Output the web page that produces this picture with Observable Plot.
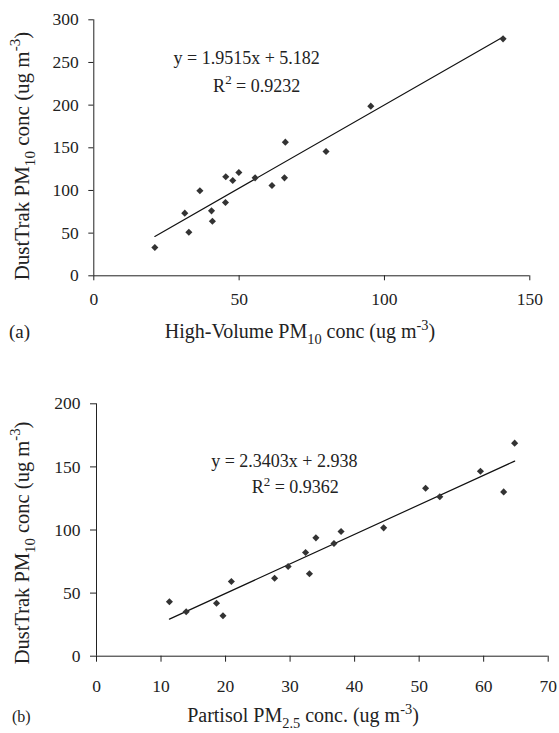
<!DOCTYPE html>
<html>
<head>
<meta charset="utf-8">
<script src="https://cdn.jsdelivr.net/npm/d3@7"></script>
<script src="https://cdn.jsdelivr.net/npm/@observablehq/plot@0.6"></script>
<style>
  html, body { margin: 0; padding: 0; background: #fff; }
  #wrap svg { display: block; }
</style>
</head>
<body>
<div id="wrap"></div>
<script>
// ---- Data ----
// Panel (a): High-Volume PM10 vs DustTrak PM10
const hvPM10 = [21.0, 31.3, 32.7, 36.5, 40.5, 40.8, 45.3, 45.4, 47.8, 49.9, 55.5, 61.3, 65.6, 65.9, 79.9, 95.3, 140.8];
const dustTrakA = [33.2, 73.4, 51.1, 99.6, 76.1, 64.0, 85.9, 116.0, 111.7, 121.1, 114.8, 105.8, 114.8, 156.6, 145.7, 198.8, 277.7];
const fitA = {slope: 1.9515, intercept: 5.182, r2: 0.9232};
const xTicksA = [0, 50, 100, 150];
const yTicksA = [0, 50, 100, 150, 200, 250, 300];

// Panel (b): Partisol PM2.5 vs DustTrak PM10
const partisolPM25 = [11.3, 13.9, 18.6, 19.6, 20.9, 27.6, 29.7, 32.4, 33.0, 34.0, 36.8, 37.9, 44.5, 51.0, 53.2, 59.5, 63.1, 64.8];
const dustTrakB = [43.1, 35.2, 42.0, 32.0, 59.2, 61.8, 71.1, 82.2, 65.3, 93.8, 89.3, 98.8, 101.7, 133.1, 126.3, 146.6, 130.2, 168.8];
const fitB = {slope: 2.3403, intercept: 2.938, r2: 0.9362};
const xTicksB = [0, 10, 20, 30, 40, 50, 60, 70];
const yTicksB = [0, 50, 100, 150, 200];

const FONT = "'Liberation Serif', 'Times New Roman', serif";
const INK = "#222";

function pts(xs, ys) { return xs.map((x, i) => ({x, y: ys[i]})); }
function fitLine(xs, f) {
  const [a, b] = d3.extent(xs);
  return [a, b].map(x => ({x, y: f.slope * x + f.intercept}));
}

function rich(svg, {x, y, size, anchor = "middle", rotate = 0, parts}) {
  const t = d3.select(svg).append("text")
    .attr("transform", `translate(${x},${y}) rotate(${rotate})`)
    .attr("text-anchor", anchor)
    .attr("font-family", FONT)
    .attr("font-size", size)
    .attr("fill", INK)
    .style("white-space", "pre");
  let shift = 0;
  for (const [s, k] of parts) {
    const target = k === "sub" ? size * 0.3 : k === "sup" ? -size * 0.42 : 0;
    const ts = t.append("tspan").text(s).attr("dy", target - shift);
    if (k) ts.attr("font-size", size * 0.72);
    shift = target;
  }
  return t;
}

function panel({xs, ys, fit, xDomain, yDomain, xTicks, yTicks, width, height, margins, tick}) {
  return Plot.plot({
    width, height,
    marginLeft: margins[3], marginRight: margins[1], marginTop: margins[0], marginBottom: margins[2],
    style: {fontFamily: FONT, fontSize: "17.5px", color: INK, background: "#fff", overflow: "visible"},
    x: {domain: xDomain},
    y: {domain: yDomain},
    marks: [
      Plot.ruleY([yDomain[0]], {stroke: INK, strokeWidth: 1}),
      Plot.ruleX([xDomain[0]], {stroke: INK, strokeWidth: 1}),
      Plot.axisX({ticks: xTicks, tickSize: tick.size, tickPadding: tick.xPad, label: null, tickFormat: d => String(d)}),
      Plot.axisY({ticks: yTicks, tickSize: tick.size, tickPadding: tick.yPad, label: null, tickFormat: d => String(d)}),
      Plot.line(fitLine(xs, fit), {x: "x", y: "y", stroke: "#111", strokeWidth: 1.2}),
      Plot.dot(pts(xs, ys), {x: "x", y: "y", symbol: "diamond2", r: 3.2, fill: "#333", stroke: "none"})
    ]
  });
}

const wrap = document.getElementById("wrap");

// ---- Panel (a) ----
const hA = 350;
const pA = panel({
  xs: hvPM10, ys: dustTrakA, fit: fitA,
  xDomain: [0, 150], yDomain: [0, 300], xTicks: xTicksA, yTicks: yTicksA,
  width: 559, height: hA, margins: [19.3, 29.7, hA - 275.3, 93.3],
  tick: {size: 5, xPad: 12, yPad: 10}
});
wrap.appendChild(pA);
rich(pA, {x: 246.7, y: 64, size: 18, parts: [["y = " + fitA.slope + "x + " + fitA.intercept, ""]]});
rich(pA, {x: 256.7, y: 91.7, size: 18, parts: [["R", ""], ["2", "sup"], [" = " + fitA.r2, ""]]});
rich(pA, {x: 300, y: 338, size: 20, parts: [["High-Volume PM", ""], ["10", "sub"], [" conc (ug m", ""], ["-3", "sup"], [")", ""]]});
rich(pA, {x: 9, y: 338, size: 19, anchor: "start", parts: [["(a)", ""]]});
rich(pA, {x: 29, y: 156, size: 21, rotate: -90, parts: [["DustTrak PM", ""], ["10", "sub"], [" conc (ug m", ""], ["-3", "sup"], [")", ""]]});

// ---- Panel (b) ----
const offB = hA;
const hB = 733 - hA;
const pB = panel({
  xs: partisolPM25, ys: dustTrakB, fit: fitB,
  xDomain: [0, 70], yDomain: [0, 200], xTicks: xTicksB, yTicks: yTicksB,
  width: 559, height: hB, margins: [403.3 - offB, 11.3, hB - (655.7 - offB), 96],
  tick: {size: 6, xPad: 17, yPad: 10}
});
wrap.appendChild(pB);
rich(pB, {x: 284.3, y: 467.3 - offB, size: 18, parts: [["y = " + fitB.slope + "x + " + fitB.intercept, ""]]});
rich(pB, {x: 295.3, y: 493.3 - offB, size: 18, parts: [["R", ""], ["2", "sup"], [" = " + fitB.r2, ""]]});
rich(pB, {x: 303, y: 722 - offB, size: 20, parts: [["Partisol PM", ""], ["2.5", "sub"], [" conc. (ug m", ""], ["-3", "sup"], [")", ""]]});
rich(pB, {x: 12, y: 722 - offB, size: 16, anchor: "start", parts: [["(b)", ""]]});
rich(pB, {x: 29, y: 543 - offB, size: 20.5, rotate: -90, parts: [["DustTrak PM", ""], ["10", "sub"], [" conc (ug m", ""], ["-3", "sup"], [")", ""]]});
</script>
</body>
</html>
